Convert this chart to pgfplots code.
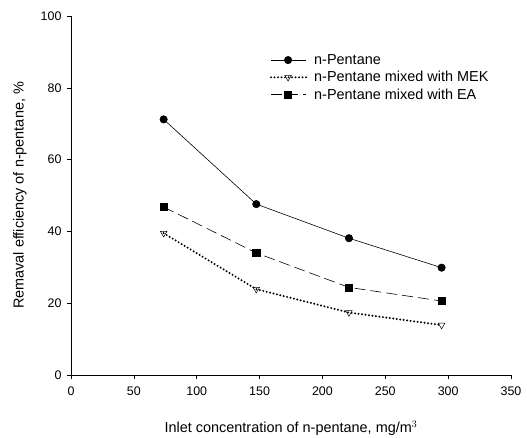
\documentclass[border=0pt]{standalone}
\usepackage{fontspec}
\setmainfont{Liberation Sans}
\usepackage{pgfplots}
\pgfplotsset{compat=1.18}

\begin{document}
\begin{tikzpicture}
\useasboundingbox (-71bp,-63bp) rectangle (456bp,375bp);
\begin{axis}[
  at={(0,0)}, anchor=south west,
  scale only axis, width=440bp, height=359bp,
  xmin=0, xmax=350, ymin=0, ymax=100,
  xtick={0,50,...,350}, ytick={0,20,...,100},
  axis x line*=bottom, axis y line*=left,
  tick align=outside, major tick length=4bp,
  tick style={black, line width=0.5pt},
  axis line style={line width=0.6pt},
  /pgf/number format/assume math mode=true,
  ticklabel style={font=\fontsize{12.5}{14}\selectfont},
  xticklabel style={yshift=-4bp},
  yticklabel style={xshift=-2bp},
  label style={font=\fontsize{14.5}{16}\selectfont},
  xlabel={Inlet concentration of n-pentane, mg/m$^3$},
  ylabel={Remaval efficiency of n-pentane, \%},
  xlabel style={at={(0.5,0)}, anchor=center, yshift=-53bp},
  ylabel style={at={(0,0.5)}, anchor=center, yshift=51bp},
  legend style={draw=none, fill=none, at={(0.445,0.902)}, anchor=north west,
    font=\fontsize{14.5}{15}\selectfont, row sep=3.5bp,
    nodes={inner sep=1bp},
    /tikz/every odd column/.append style={column sep=6bp}},
  legend cell align=left,
  legend image code/.code={
    \draw[mark repeat=2, mark phase=2] plot coordinates {(0bp,0bp) (17bp,0bp) (35bp,0bp)};
  },
]
\addplot[black, line width=0.6pt, mark=*, mark size=3.7bp] coordinates {
  (73.7,71.2)(147.4,47.6)(221.1,38.1)(294.8,29.9)
};
\addplot[black, line width=2.2bp, dash pattern=on 0pt off 3.5bp, line cap=round,
  mark=triangle, mark options={rotate=180, solid, fill=white, line width=0.5pt, line cap=butt}, mark size=3.8bp] coordinates {
  (73.7,39.5)(147.4,23.9)(221.1,17.4)(294.8,13.9)
};
\addplot[black, line width=0.6pt, dash pattern=on 11bp off 5bp,
  mark=square*, mark options={solid}, mark size=3.6bp] coordinates {
  (73.7,46.8)(147.4,34.0)(221.1,24.4)(294.8,20.6)
};
\legend{n-Pentane, n-Pentane mixed with MEK, n-Pentane mixed with EA}
\end{axis}
\end{tikzpicture}
\end{document}
